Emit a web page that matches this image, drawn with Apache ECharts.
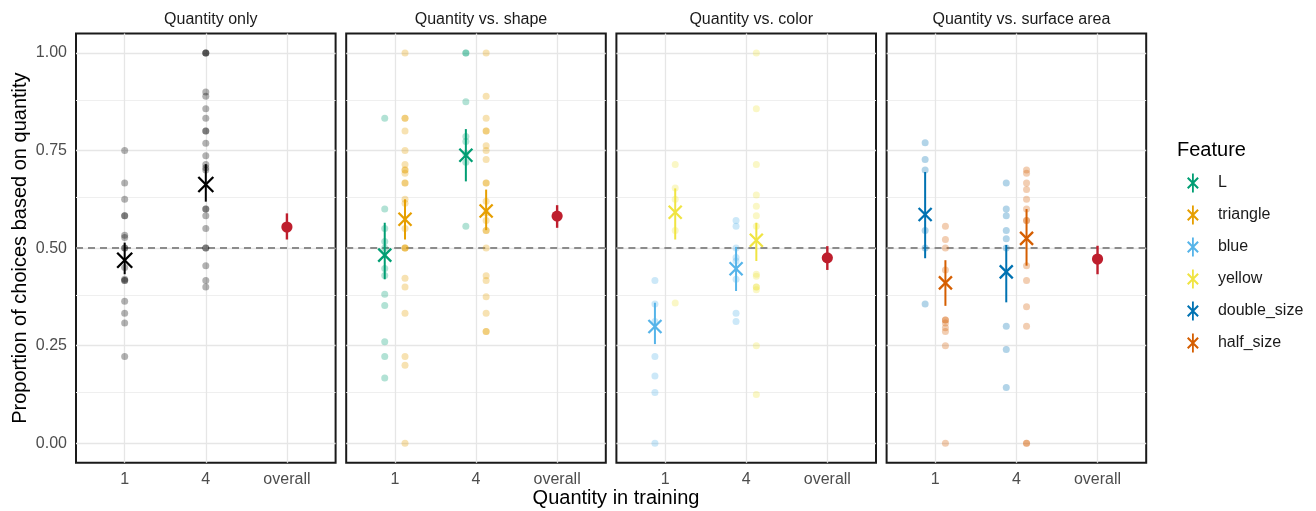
<!DOCTYPE html>
<html><head><meta charset="utf-8">
<script src="https://cdn.jsdelivr.net/npm/echarts@6/dist/echarts.min.js"></script>
<style>html,body{margin:0;padding:0;background:#fff}#c{width:1316px;height:511px}</style>
</head><body><div id="c"></div><script>
// ---------- data ----------
const categories = ['1', '4', 'overall'];
const panelTitles = ['Quantity only', 'Quantity vs. shape', 'Quantity vs. color', 'Quantity vs. surface area'];
const features = ['L', 'triangle', 'blue', 'yellow', 'double_size', 'half_size'];
const featureColors = ['#009E73', '#E69F00', '#56B4E9', '#F0E442', '#0072B2', '#D55E00'];
const yTicks = [0, 0.25, 0.5, 0.75, 1];
const yMinorTicks = [0.125, 0.375, 0.625, 0.875];
const chanceLevel = 0.5;

// individual proportions (points)
const only1 = [0.75, 0.667, 0.625, 0.583, 0.583, 0.533, 0.527, 0.5, 0.5, 0.45, 0.42, 0.417, 0.417, 0.364, 0.333, 0.308, 0.222];
const only4 = [1, 1, 1, 0.9, 0.889, 0.857, 0.833, 0.8, 0.8, 0.769, 0.737, 0.714, 0.706, 0.7, 0.6, 0.6, 0.583, 0.55, 0.5, 0.5, 0.455, 0.417, 0.4];
const L1 = [0.833, 0.6, 0.55, 0.517, 0.5, 0.448, 0.43, 0.382, 0.353, 0.26, 0.222, 0.167];
const triangle1 = [1, 0.833, 0.833, 0.8, 0.75, 0.714, 0.7, 0.7, 0.692, 0.667, 0.667, 0.625, 0.615, 0.55, 0.5, 0.5, 0.5, 0.423, 0.4, 0.333, 0.222, 0.2, 0];
const L4 = [1, 1, 0.875, 0.786, 0.773, 0.742, 0.72, 0.556];
const triangle4 = [1, 0.889, 0.833, 0.8, 0.8, 0.762, 0.75, 0.727, 0.667, 0.667, 0.62, 0.59, 0.571, 0.545, 0.545, 0.5, 0.429, 0.417, 0.375, 0.333, 0.286, 0.286];
const blue1 = [0.417, 0.357, 0.312, 0.222, 0.172, 0.13, 0];
const yellow1 = [0.714, 0.654, 0.625, 0.545, 0.359];
const blue4 = [0.571, 0.556, 0.5, 0.476, 0.467, 0.42, 0.333, 0.312];
const yellow4 = [1, 0.857, 0.714, 0.636, 0.607, 0.583, 0.556, 0.433, 0.428, 0.4, 0.4, 0.393, 0.25, 0.125];
const double1 = [0.77, 0.727, 0.7, 0.545, 0.5, 0.357];
const half1 = [0.556, 0.522, 0.5, 0.444, 0.316, 0.316, 0.308, 0.296, 0.286, 0.25, 0];
const double4 = [0.667, 0.6, 0.583, 0.545, 0.524, 0.5, 0.3, 0.24, 0.143];
const half4 = [0.7, 0.692, 0.667, 0.65, 0.625, 0.6, 0.571, 0.571, 0.455, 0.417, 0.35, 0.3, 0, 0];

// means with [mean, lower, upper]
const onlyMean1 = [0.469, 0.433, 0.514];
const onlyMean4 = [0.663, 0.619, 0.715];
const onlyOverall = [0.554, 0.522, 0.589];
const LMean1 = [0.482, 0.42, 0.565];
const triangleMean1 = [0.574, 0.522, 0.625];
const LMean4 = [0.738, 0.671, 0.805];
const triangleMean4 = [0.595, 0.546, 0.65];
const shapeOverall = [0.582, 0.552, 0.61];
const blueMean1 = [0.299, 0.254, 0.36];
const yellowMean1 = [0.592, 0.522, 0.653];
const blueMean4 = [0.447, 0.39, 0.503];
const yellowMean4 = [0.52, 0.467, 0.565];
const colorOverall = [0.475, 0.444, 0.505];
const doubleMean1 = [0.586, 0.474, 0.695];
const halfMean1 = [0.411, 0.352, 0.469];
const doubleMean4 = [0.439, 0.361, 0.508];
const halfMean4 = [0.525, 0.455, 0.6];
const areaOverall = [0.472, 0.433, 0.506];

// ---------- structure ----------
const panelFeatures = [
  [{ f: null, by: [only1, only4], means: [onlyMean1, onlyMean4] }],
  [{ f: 'L', by: [L1, L4], means: [LMean1, LMean4] }, { f: 'triangle', by: [triangle1, triangle4], means: [triangleMean1, triangleMean4] }],
  [{ f: 'blue', by: [blue1, blue4], means: [blueMean1, blueMean4] }, { f: 'yellow', by: [yellow1, yellow4], means: [yellowMean1, yellowMean4] }],
  [{ f: 'double_size', by: [double1, double4], means: [doubleMean1, doubleMean4] }, { f: 'half_size', by: [half1, half4], means: [halfMean1, halfMean4] }]
];
const panelOverall = [onlyOverall, shapeOverall, colorOverall, areaOverall];

// ---------- layout ----------
const FONT = '"Liberation Sans", Arial, Helvetica, sans-serif';
const P_LEFT = 76, P_STEP = 270.2, P_W = 259.6, P_TOP = 33.5, P_H = 429.2;
const DODGE = 0.125;
const overallColor = '#BE1E2D';

function colorOf(f) { return f === null ? '#000000' : featureColors[features.indexOf(f)]; }

function makeMeanRenderer(s) {
  return function (params, api) {
    const x = api.value(0), m = api.value(1), lo = api.value(2), hi = api.value(3);
    const pm = api.coord([x, m]), pl = api.coord([x, lo]), ph = api.coord([x, hi]);
    const c = api.visual('color');
    return { type: 'group', children: [
      { type: 'line', shape: { x1: pl[0], y1: pl[1], x2: ph[0], y2: ph[1] }, style: { stroke: c, lineWidth: 2 } },
      { type: 'line', shape: { x1: pm[0] - s, y1: pm[1] - s, x2: pm[0] + s, y2: pm[1] + s }, style: { stroke: c, lineWidth: 2.3 } },
      { type: 'line', shape: { x1: pm[0] - s, y1: pm[1] + s, x2: pm[0] + s, y2: pm[1] - s }, style: { stroke: c, lineWidth: 2.3 } }
    ] };
  };
}
function renderOverall(params, api) {
  const x = api.value(0), m = api.value(1), lo = api.value(2), hi = api.value(3);
  const pm = api.coord([x, m]), pl = api.coord([x, lo]), ph = api.coord([x, hi]);
  const c = api.visual('color');
  return { type: 'group', children: [
    { type: 'line', shape: { x1: pl[0], y1: pl[1], x2: ph[0], y2: ph[1] }, style: { stroke: c, lineWidth: 2.4 } },
    { type: 'circle', shape: { cx: pm[0], cy: pm[1], r: 5.6 }, style: { fill: c } }
  ] };
}

const grids = [], xAxes = [], yAxes = [], series = [], titles = [];
panelTitles.forEach((t, i) => {
  const left = P_LEFT + i * P_STEP;
  grids.push({ left: left, top: P_TOP, width: P_W, height: P_H, show: true, borderColor: '#1a1a1a', borderWidth: 2, backgroundColor: 'transparent', containLabel: false });
  xAxes.push({
    type: 'value', gridIndex: i, min: 0.4, max: 3.6,
    axisLine: { show: false }, axisTick: { show: false }, splitLine: { show: false },
    axisLabel: { customValues: [1, 2, 3], formatter: v => categories[Math.round(v) - 1], fontSize: 16, color: '#4D4D4D', margin: 9, fontFamily: FONT }
  });
  yAxes.push({
    type: 'value', gridIndex: i, min: -0.05, max: 1.05,
    axisLine: { show: false }, axisTick: { show: false }, splitLine: { show: false },
    axisLabel: { show: i === 0, customValues: yTicks, formatter: v => v.toFixed(2), fontSize: 16, color: '#4D4D4D', margin: 9, fontFamily: FONT },
    name: i === 0 ? 'Proportion of choices based on quantity' : '',
    nameLocation: 'middle', nameRotate: 90, nameGap: 46,
    nameTextStyle: { fontSize: 20, color: '#000', fontFamily: FONT }
  });
  titles.push({ text: t, left: left + P_W / 2, top: 7, textAlign: 'center', textStyle: { fontSize: 16, fontWeight: 'normal', color: '#1a1a1a', fontFamily: FONT } });

  // gridlines + chance line
  const ml = [];
  yMinorTicks.forEach(v => ml.push({ yAxis: v, lineStyle: { color: '#EFEFEF', width: 1, type: 'solid' } }));
  yTicks.forEach(v => ml.push({ yAxis: v, lineStyle: { color: '#E6E6E6', width: 1.3, type: 'solid' } }));
  [1, 2, 3].forEach(v => ml.push({ xAxis: v, lineStyle: { color: '#E6E6E6', width: 1.3, type: 'solid' } }));
  series.push({ type: 'scatter', xAxisIndex: i, yAxisIndex: i, data: [], silent: true, z: 1,
    markLine: { silent: true, symbol: 'none', label: { show: false }, animation: false, z: 1, data: ml } });
  series.push({ type: 'scatter', xAxisIndex: i, yAxisIndex: i, data: [], silent: true, z: 2,
    markLine: { silent: true, symbol: 'none', label: { show: false }, animation: false, z: 2,
      data: [{ yAxis: chanceLevel, lineStyle: { color: '#8C8C8C', width: 2, type: [7, 5] } }] } });

  const groups = panelFeatures[i];
  const n = groups.length;
  groups.forEach((g, k) => {
    const off = n === 1 ? 0 : (k === 0 ? -DODGE : DODGE);
    const c = colorOf(g.f);
    const nm = g.f === null ? 'quantity_only' : g.f;
    series.push({ type: 'custom', name: nm, xAxisIndex: i, yAxisIndex: i, z: 5, silent: true,
      itemStyle: { color: c }, renderItem: makeMeanRenderer(n === 1 ? 7.5 : 6.5),
      data: g.means.map((mm, ci) => [ci + 1 + off, mm[0], mm[1], mm[2]]) });
  });
  groups.forEach((g, k) => {
    const off = n === 1 ? 0 : (k === 0 ? -DODGE : DODGE);
    const c = colorOf(g.f);
    const nm = g.f === null ? 'quantity_only' : g.f;
    g.by.forEach((pts, ci) => {
      series.push({ type: 'scatter', name: nm, xAxisIndex: i, yAxisIndex: i, z: 3, silent: true,
        symbolSize: 7, itemStyle: { color: c, opacity: 0.3 },
        data: pts.map(v => [ci + 1 + off, v]) });
    });
  });
  const o = panelOverall[i];
  series.push({ type: 'custom', name: 'overall', xAxisIndex: i, yAxisIndex: i, z: 5, silent: true,
    itemStyle: { color: overallColor }, renderItem: renderOverall,
    data: [[3, o[0], o[1], o[2]]] });
});

titles.push({ text: 'Quantity in training', left: 611, top: 483, textAlign: 'center', textStyle: { fontSize: 20, fontWeight: 'normal', color: '#000', fontFamily: FONT } });
titles.push({ text: 'Feature', left: 1172, top: 135, textStyle: { fontSize: 20, fontWeight: 'normal', color: '#000', fontFamily: FONT } });

const iconPath = 'path://M5.1,0L6.9,0L6.9,19L5.1,19Z M1.51,3.59L11.91,13.99L10.49,15.41L0.09,5.01Z M11.91,5.01L1.51,15.41L0.09,13.99L10.49,3.59Z';

const option = {
  animation: false,
  backgroundColor: '#ffffff',
  textStyle: { fontFamily: FONT },
  title: titles,
  grid: grids,
  xAxis: xAxes,
  yAxis: yAxes,
  legend: {
    orient: 'vertical', left: 1182, top: 168.5, itemWidth: 12, itemHeight: 19, itemGap: 13,
    selectedMode: false,
    textStyle: { fontSize: 16, color: '#1a1a1a', fontFamily: FONT, padding: [0, 0, 0, 14] },
    data: features.map((f, k) => ({ name: f, icon: iconPath, itemStyle: { color: featureColors[k], opacity: 1 } }))
  },
  series: series
};
const chart = echarts.init(document.getElementById('c'), null, { renderer: 'canvas' });
chart.setOption(option);
</script></body></html>
